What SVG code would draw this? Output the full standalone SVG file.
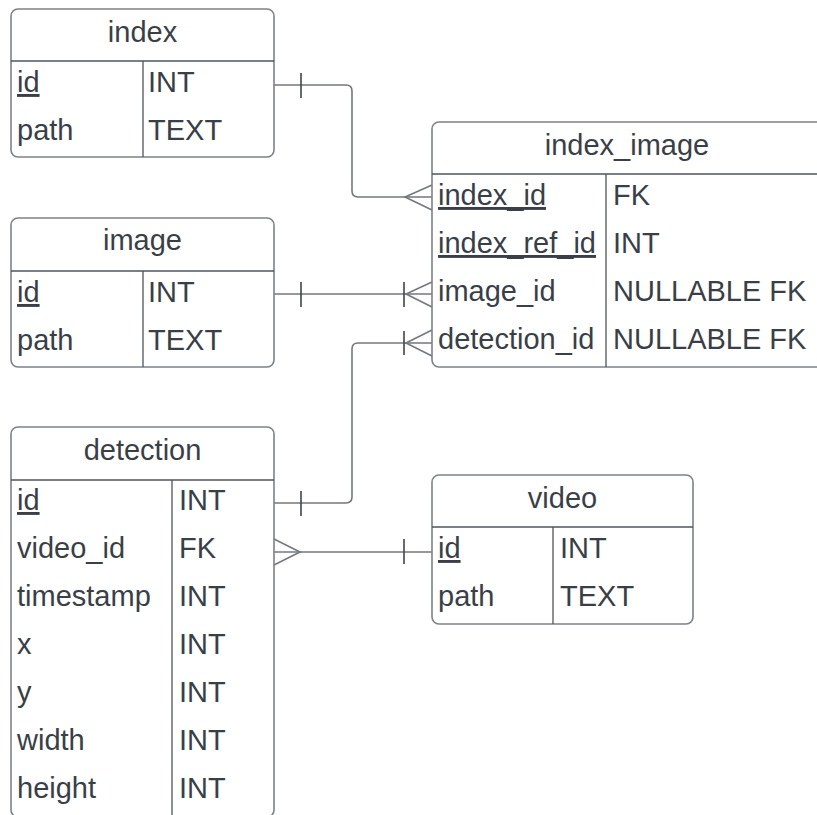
<svg xmlns="http://www.w3.org/2000/svg" width="817" height="815" viewBox="0 0 817 815">
<style>
.box{fill:#ffffff;stroke:#7d8188;stroke-width:1.6}
.div{stroke:#50565e;stroke-width:1.3;fill:none}
.t{font-family:"Liberation Sans",Arial,sans-serif;font-size:29px;fill:#3a3f47}
.h{text-anchor:middle}
.u{text-decoration:underline}
.c{stroke:#73777e;stroke-width:1.6;fill:none}
.k{stroke:#3f454c;stroke-width:1.6;fill:none}
</style>
<rect width="817" height="815" fill="#ffffff"/>
<g id="connectors">
  <path class="c" d="M274 85 H346 Q352 85 352 91 V191 Q352 197 358 197 H432"/>
  <path class="k" d="M301 73 V98"/>
  <path class="c" d="M432 185 L405 197 L432 210"/>
  <path class="c" d="M274 294 H432"/>
  <path class="k" d="M301 282 V307 M404 282 V307"/>
  <path class="c" d="M432 282 L406 294 L432 307"/>
  <path class="c" d="M274 503 H346 Q352 503 352 497 V349 Q352 343 358 343 H432"/>
  <path class="k" d="M301 491 V516 M404 331 V355"/>
  <path class="c" d="M432 330 L406 343 L432 356"/>
  <path class="c" d="M274 552 H432"/>
  <path class="k" d="M404 539 V564"/>
  <path class="c" d="M274 539 L300 552 L274 565"/>
</g>
<g id="index">
  <rect class="box" x="11" y="9" width="263" height="148" rx="7"/>
  <path class="div" d="M11 61 H274 M143 61 V157"/>
  <text class="t h" x="142.5" y="42">index</text>
  <text class="t u" x="17" y="92">id</text>
  <text class="t" x="148" y="92">INT</text>
  <text class="t" x="17" y="140">path</text>
  <text class="t" x="148" y="140">TEXT</text>
</g>
<g id="image">
  <rect class="box" x="11" y="218" width="263" height="149" rx="7"/>
  <path class="div" d="M11 271 H274 M143 271 V367"/>
  <text class="t h" x="142.5" y="250">image</text>
  <text class="t u" x="17" y="302">id</text>
  <text class="t" x="148" y="302">INT</text>
  <text class="t" x="17" y="350">path</text>
  <text class="t" x="148" y="350">TEXT</text>
</g>
<g id="index_image">
  <rect class="box" x="432" y="122" width="395" height="245" rx="7"/>
  <path class="div" d="M432 174 H827 M606 174 V367"/>
  <text class="t h" x="627" y="155">index_image</text>
  <text class="t u" x="438" y="205">index_id</text>
  <text class="t" x="613" y="205">FK</text>
  <text class="t u" x="438" y="253">index_ref_id</text>
  <text class="t" x="613" y="253">INT</text>
  <text class="t" x="438" y="301">image_id</text>
  <text class="t" x="613" y="301">NULLABLE FK</text>
  <text class="t" x="438" y="349">detection_id</text>
  <text class="t" x="613" y="349">NULLABLE FK</text>
</g>
<g id="detection">
  <rect class="box" x="11" y="427" width="263" height="390" rx="7"/>
  <path class="div" d="M11 480 H274 M172 480 V817"/>
  <text class="t h" x="142.5" y="460">detection</text>
  <text class="t u" x="17" y="510">id</text>
  <text class="t" x="179" y="510">INT</text>
  <text class="t" x="17" y="558">video_id</text>
  <text class="t" x="179" y="558">FK</text>
  <text class="t" x="17" y="606">timestamp</text>
  <text class="t" x="179" y="606">INT</text>
  <text class="t" x="17" y="654">x</text>
  <text class="t" x="179" y="654">INT</text>
  <text class="t" x="17" y="702">y</text>
  <text class="t" x="179" y="702">INT</text>
  <text class="t" x="17" y="750">width</text>
  <text class="t" x="179" y="750">INT</text>
  <text class="t" x="17" y="798">height</text>
  <text class="t" x="179" y="798">INT</text>
</g>
<g id="video">
  <rect class="box" x="432" y="475" width="261" height="149" rx="7"/>
  <path class="div" d="M432 527 H693 M553 527 V624"/>
  <text class="t h" x="562.5" y="508">video</text>
  <text class="t u" x="438" y="558">id</text>
  <text class="t" x="560" y="558">INT</text>
  <text class="t" x="438" y="606">path</text>
  <text class="t" x="560" y="606">TEXT</text>
</g>
</svg>
